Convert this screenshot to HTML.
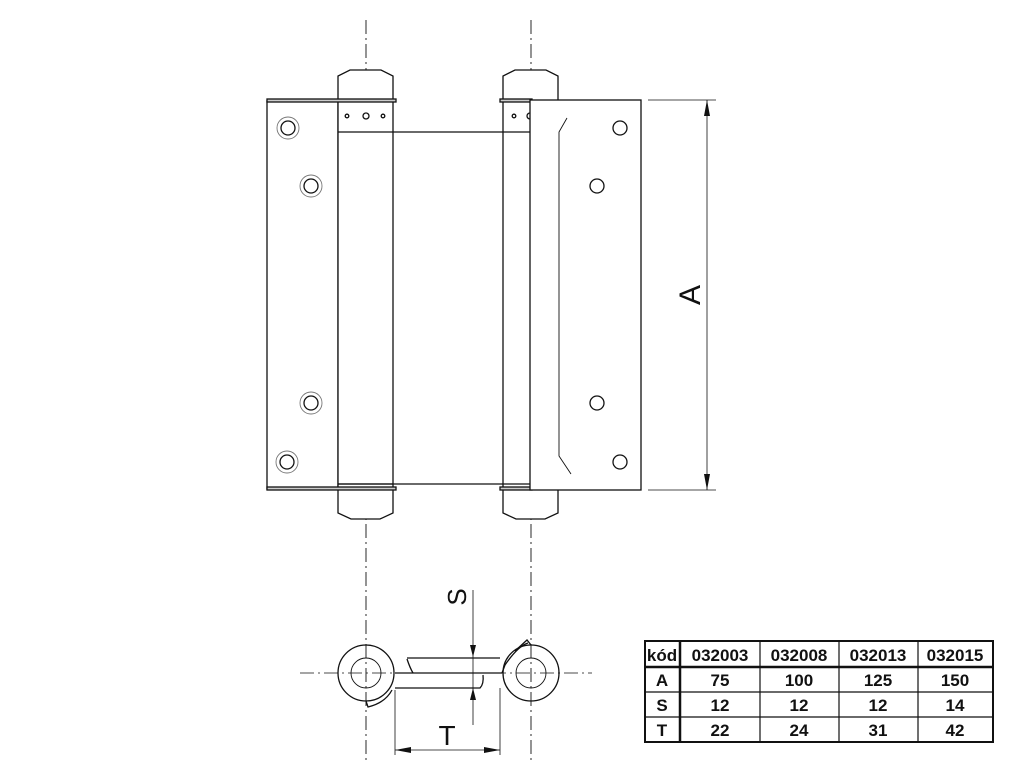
<!DOCTYPE html>
<html><head><style>body{margin:0;background:#fff}svg{display:block}</style></head><body>
<svg width="1024" height="768" viewBox="0 0 1024 768" xmlns="http://www.w3.org/2000/svg" font-family="Liberation Sans, sans-serif">
<g fill="none" stroke="#111" stroke-width="1.3">
<line x1="366" y1="20" x2="366" y2="760" stroke-width="0.9" stroke-dasharray="14,4,2,4"/>
<line x1="531" y1="20" x2="531" y2="760" stroke-width="0.9" stroke-dasharray="14,4,2,4"/>
<rect x="267" y="101" width="71" height="388" fill="#fff"/>
<rect x="338" y="101" width="55" height="388" fill="#fff"/>
<rect x="503" y="101" width="55" height="388" fill="#fff"/>
<line x1="338" y1="132" x2="530" y2="132"/>
<line x1="338" y1="484" x2="530" y2="484"/>
<path d="M338,100 V76 L350,70 H381 L393,76 V100" fill="#fff"/>
<path d="M503,100 V76 L515,70 H546 L558,76 V100" fill="#fff"/>
<path d="M338,490 V513 L351,519 H380 L393,513 V490" fill="#fff"/>
<path d="M503,490 V513 L516,519 H545 L558,513 V490" fill="#fff"/>
<rect x="267" y="99" width="129" height="3" fill="#ccc"/>
<rect x="500" y="99" width="32" height="3" fill="#ccc"/>
<rect x="267" y="487" width="129" height="3" fill="#ccc"/>
<rect x="500" y="487" width="32" height="3" fill="#ccc"/>
<line x1="338" y1="484" x2="393" y2="484"/>
<circle cx="347" cy="116" r="1.8"/><circle cx="366" cy="116" r="3"/><circle cx="383" cy="116" r="1.8"/>
<circle cx="514" cy="116" r="1.8"/><circle cx="530" cy="116" r="3"/>
<rect x="530" y="100" width="111" height="390" fill="#fff"/>
<path d="M567,118 L559,132 V456 L571,474" stroke-width="0.9"/>
<circle cx="620" cy="128" r="7"/><circle cx="597" cy="186" r="7"/><circle cx="597" cy="403" r="7"/><circle cx="620" cy="462" r="7"/>
<g>
<circle cx="288" cy="128" r="11" stroke="#777" stroke-width="0.9"/><circle cx="288" cy="128" r="7"/>
<circle cx="311" cy="186" r="11" stroke="#777" stroke-width="0.9"/><circle cx="311" cy="186" r="7"/>
<circle cx="311" cy="403" r="11" stroke="#777" stroke-width="0.9"/><circle cx="311" cy="403" r="7"/>
<circle cx="287" cy="462" r="11" stroke="#777" stroke-width="0.9"/><circle cx="287" cy="462" r="7"/>
</g>
<line x1="648" y1="100" x2="716" y2="100" stroke-width="0.8"/>
<line x1="648" y1="490" x2="716" y2="490" stroke-width="0.8"/>
<line x1="707" y1="100" x2="707" y2="490" stroke-width="0.8"/>
</g>
<path d="M707,100 l-3,16 h6 z M707,490 l-3,-16 h6 z" fill="#111"/>
<text x="700" y="295" font-size="30" transform="rotate(-90 700 295)" text-anchor="middle" fill="#111">A</text>
<g fill="none" stroke="#111" stroke-width="1.3">
<line x1="300" y1="673" x2="592" y2="673" stroke-width="0.8" stroke-dasharray="14,4,2,4"/>
<path d="M407,659 Q410,668 413,673"/>
<line x1="407" y1="658" x2="500" y2="658"/>
<line x1="395" y1="673" x2="502" y2="673"/>
<path d="M395,688 H480 Q484,684 483,675"/>
<path d="M502,673 L505,665 Q518,646 528,643"/>
<path d="M366,701 L368,707 Q385,703 392,690"/>
<circle cx="366" cy="673" r="28" fill="none"/><circle cx="366" cy="673" r="15" stroke-width="0.9"/>
<circle cx="531" cy="673" r="28" fill="none"/><circle cx="531" cy="673" r="15" stroke-width="0.9"/>
<path d="M515,651 L527,640 L531,645" />
<line x1="473" y1="590" x2="473" y2="725" stroke-width="0.8"/>
<line x1="395" y1="690" x2="395" y2="755" stroke-width="0.8"/>
<line x1="500" y1="688" x2="500" y2="755" stroke-width="0.8"/>
<line x1="395" y1="750" x2="500" y2="750" stroke-width="0.8"/>
</g>
<path d="M473,657 l-3,-12 h6 z M473,688 l-3,12 h6 z M395,750 l16,-3 v6 z M500,750 l-16,-3 v6 z" fill="#111"/>
<text x="466" y="597" font-size="26" transform="rotate(-90 466 597)" text-anchor="middle" fill="#111">S</text>
<text x="447" y="745" font-size="28" text-anchor="middle" fill="#111">T</text>
<g fill="none" stroke="#111">
<rect x="645" y="641" width="348" height="101" stroke-width="2"/>
<line x1="645" y1="667" x2="993" y2="667" stroke-width="2.5"/>
<line x1="645" y1="692" x2="993" y2="692" stroke-width="1.2"/>
<line x1="645" y1="717" x2="993" y2="717" stroke-width="1.2"/>
<line x1="680" y1="641" x2="680" y2="742" stroke-width="2.5"/>
<line x1="760" y1="641" x2="760" y2="742" stroke-width="1.2"/>
<line x1="839" y1="641" x2="839" y2="742" stroke-width="1.2"/>
<line x1="918" y1="641" x2="918" y2="742" stroke-width="1.2"/>
</g>
<g font-size="17" font-weight="bold" text-anchor="middle" fill="#111">
<text x="662" y="661">kód</text><text x="720" y="661">032003</text><text x="799" y="661">032008</text><text x="878" y="661">032013</text><text x="955" y="661">032015</text>
<text x="662" y="686">A</text><text x="720" y="686">75</text><text x="799" y="686">100</text><text x="878" y="686">125</text><text x="955" y="686">150</text>
<text x="662" y="711">S</text><text x="720" y="711">12</text><text x="799" y="711">12</text><text x="878" y="711">12</text><text x="955" y="711">14</text>
<text x="662" y="736">T</text><text x="720" y="736">22</text><text x="799" y="736">24</text><text x="878" y="736">31</text><text x="955" y="736">42</text>
</g>
</svg>
</body></html>
